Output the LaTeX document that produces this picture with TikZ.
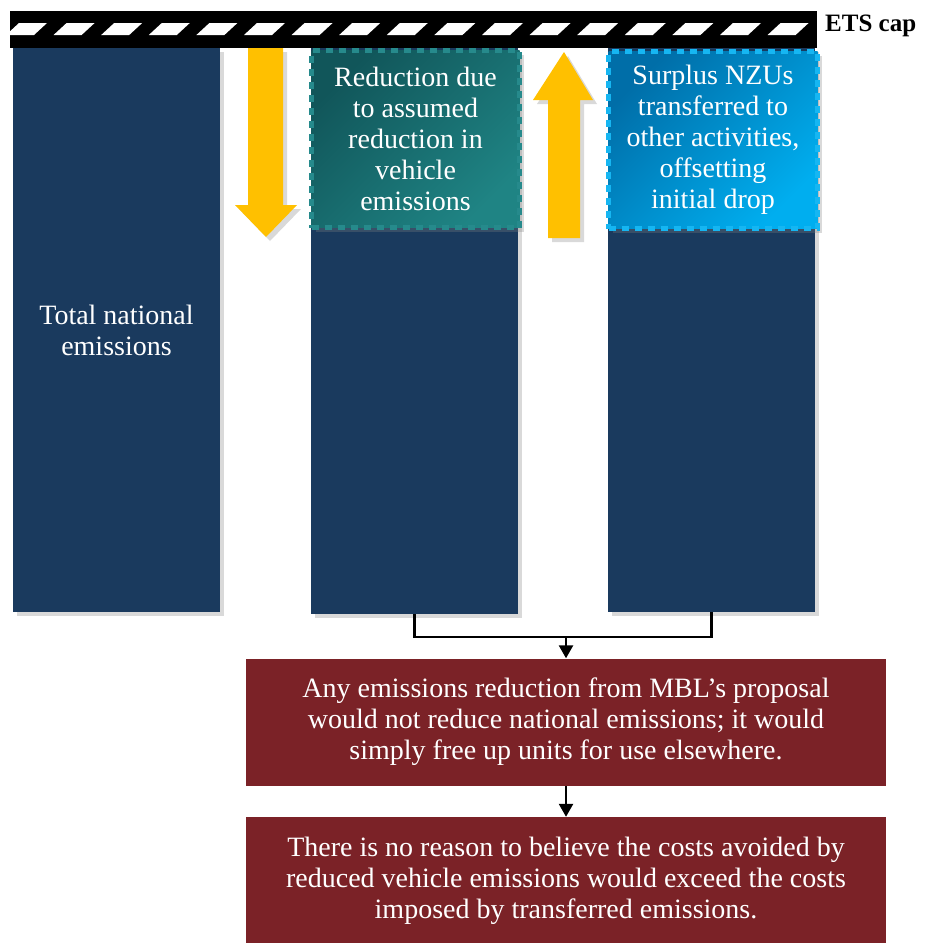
\documentclass[tikz,border=0pt]{standalone}
\usepackage{fontspec}
\setmainfont{Liberation Serif}
\usepackage{tikz}
\usetikzlibrary{%
  positioning
 ,arrows.meta
 ,shadows
}
\definecolor{navy}{RGB}{26,58,94}
\definecolor{amber}{RGB}{255,192,0}
\definecolor{tealdark}{RGB}{17,86,90}
\definecolor{teallight}{RGB}{31,132,132}
\definecolor{tealedge}{RGB}{38,138,140}
\definecolor{bluedark}{RGB}{0,110,168}
\definecolor{bluelight}{RGB}{0,174,239}
\definecolor{blueedge}{RGB}{22,182,242}
\definecolor{maroon}{RGB}{123,34,39}
\tikzstyle{txt}=[text=white,align=center,font=\fontsize{28}{31}\selectfont]
\tikzstyle{soft}=[drop shadow={opacity=0.3,shadow xshift=4pt,shadow yshift=-4pt}]
\tikzstyle{bar}=[rectangle,fill=navy,draw=none,minimum width=207pt,minimum height=564pt,inner sep=0pt,soft,txt]
\tikzstyle{cut}=[rectangle,minimum width=208pt,minimum height=177pt,inner sep=0pt,line width=5pt,dash pattern=on 7pt off 6pt,soft,txt]
\tikzstyle{note}=[rectangle,fill=maroon,draw=none,minimum width=640pt,minimum height=127pt,inner sep=0pt,txt]
\tikzstyle{lift}=[fill=amber,draw=none,soft]
\tikzstyle{link}=[draw=black,line width=2.5pt]
\begin{document}
\begin{tikzpicture}[x=1pt,y=-1pt]
  \useasboundingbox (0,0) rectangle (925,943);
  % bars
  \node[bar] (total) at (116.5,330) {Total national\\emissions};
  \node[bar,minimum height=566pt] (cut2) at (414.5,331) {};
  \node[bar] (cut3) at (711.5,330) {};
  % dashed boxes
  \node[cut,draw=tealedge,left color=tealdark,right color=teallight,shading angle=45] (reduce) at (415.5,139)
    {Reduction due\\to assumed\\reduction in\\vehicle\\emissions};
  \node[cut,draw=blueedge,left color=bluedark,right color=bluelight,shading angle=45,minimum width=209pt] (surplus) at (713,140)
    {Surplus NZUs\\transferred to\\other activities,\\offsetting\\initial drop};
  % arrows
  \fill[lift] (248,48) -- (283,48) -- (283,205) -- (297,205) -- (266,237) -- (235,205) -- (248,205) -- cycle;
  \fill[lift] (548,238) -- (580,238) -- (580,100) -- (593,100) -- (564,52) -- (533,100) -- (548,100) -- cycle;
  % cap
  \fill[black] (10,11) rectangle (817,48);
  \begin{scope}
    \clip (10,11) rectangle (817,48);
    \foreach \i in {0,...,16}
      \fill[white] ({6+47.6*\i},35) -- ({34+47.6*\i},35) -- ({47+47.6*\i},23) -- ({19+47.6*\i},23) -- cycle;
  \end{scope}
  \node[font=\fontsize{25}{28}\selectfont\bfseries,anchor=west,inner sep=0pt] (cap) at (825,26) {ETS cap};
  % conclusions
  \node[note] (n1) at (566,722) {Any emissions reduction from MBL’s proposal\\would not reduce national emissions; it would\\simply free up units for use elsewhere.};
  \node[note] (n2) at (566,880.5) {There is no reason to believe the costs avoided by\\reduced vehicle emissions would exceed the costs\\imposed by transferred emissions.};
  \coordinate (join) at (566,637);
  \draw[link] (cut2.south) |- (join) -| (cut3.south);
  \draw[link,-{Triangle[width=14pt,length=13pt]}] (join) -- (n1.north);
  \draw[link,-{Triangle[width=14pt,length=13pt]}] (n1.south) -- (n2.north);
\end{tikzpicture}
\end{document}
